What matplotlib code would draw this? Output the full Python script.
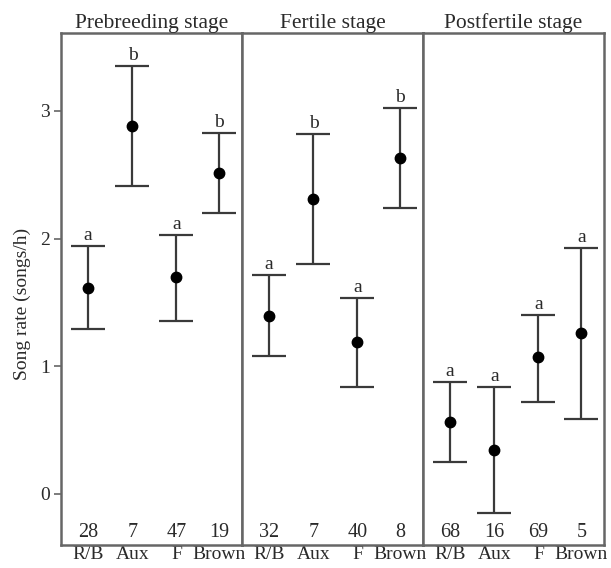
import matplotlib
matplotlib.use("Agg")
import matplotlib.pyplot as plt
import numpy as np

stages = ["Prebreeding stage", "Fertile stage", "Postfertile stage"]
groups = ["R/B", "Aux", "F", "Brown"]
means = [
    [1.61, 2.88, 1.70, 2.51],
    [1.39, 2.31, 1.19, 2.63],
    [0.565, 0.345, 1.07, 1.26],
]
upper = [
    [1.94, 3.35, 2.03, 2.83],
    [1.715, 2.82, 1.535, 3.02],
    [0.877, 0.84, 1.40, 1.93],
]
lower = [
    [1.29, 2.41, 1.355, 2.20],
    [1.08, 1.80, 0.84, 2.24],
    [0.25, -0.15, 0.72, 0.59],
]
letters = [
    ["a", "b", "a", "b"],
    ["a", "b", "a", "b"],
    ["a", "a", "a", "a"],
]
counts = [
    [28, 7, 47, 19],
    [32, 7, 40, 8],
    [68, 16, 69, 5],
]

plt.rcParams['font.family'] = ['Liberation Serif', 'DejaVu Serif']
txt = "#2a2a2a"
spine = "#666666"
bar = "#3a3a3a"

fig = plt.figure(figsize=(6.11, 5.68), dpi=100)
xs = np.array([0.6, 1.58, 2.55, 3.5])
L, R, B, T = 61/611, 604/611, (568-545)/568, (568-33)/568
w = (R - L) / 3
for i in range(3):
    ax = fig.add_axes([L + i*w, B, w, T - B])
    m = np.array(means[i]); u = np.array(upper[i]); lo = np.array(lower[i])
    ax.errorbar(xs, m, yerr=[m - lo, u - m], fmt='o', color='black', ms=7.5,
                ecolor=bar, elinewidth=1.6, capsize=12, capthick=1.6)
    for x, uu, let in zip(xs, u, letters[i]):
        ax.text(x, uu + 0.015, let, ha='center', va='bottom', fontsize=14, color=txt)
    for x, c in zip(xs, counts[i]):
        ax.text(x, -0.3, str(c), ha='center', va='center', fontsize=14.5, color=txt)
    ax.set_xlim(0, 4)
    ax.set_ylim(-0.4, 3.61)
    ax.set_xticks(xs)
    ax.set_xticklabels(groups, fontsize=14, color=txt)
    ax.tick_params(axis='x', length=0, pad=1)
    for s in ax.spines.values():
        s.set_color(spine)
        s.set_linewidth(1.8)
    ax.set_title(stages[i], fontsize=15.5, color=txt, pad=2)
    if i == 0:
        ax.set_yticks([0, 1, 2, 3])
        ax.set_yticklabels(["0", "1", "2", "3"], fontsize=14, color=txt)
        ax.tick_params(axis='y', length=5, width=1.2, color=spine, pad=3)
        ax.set_ylabel("Song rate (songs/h)", fontsize=14, color=txt)
        ax.yaxis.set_label_coords(-0.165, 0.47)
    else:
        ax.set_yticks([])

fig.savefig("out.png", dpi=100)
